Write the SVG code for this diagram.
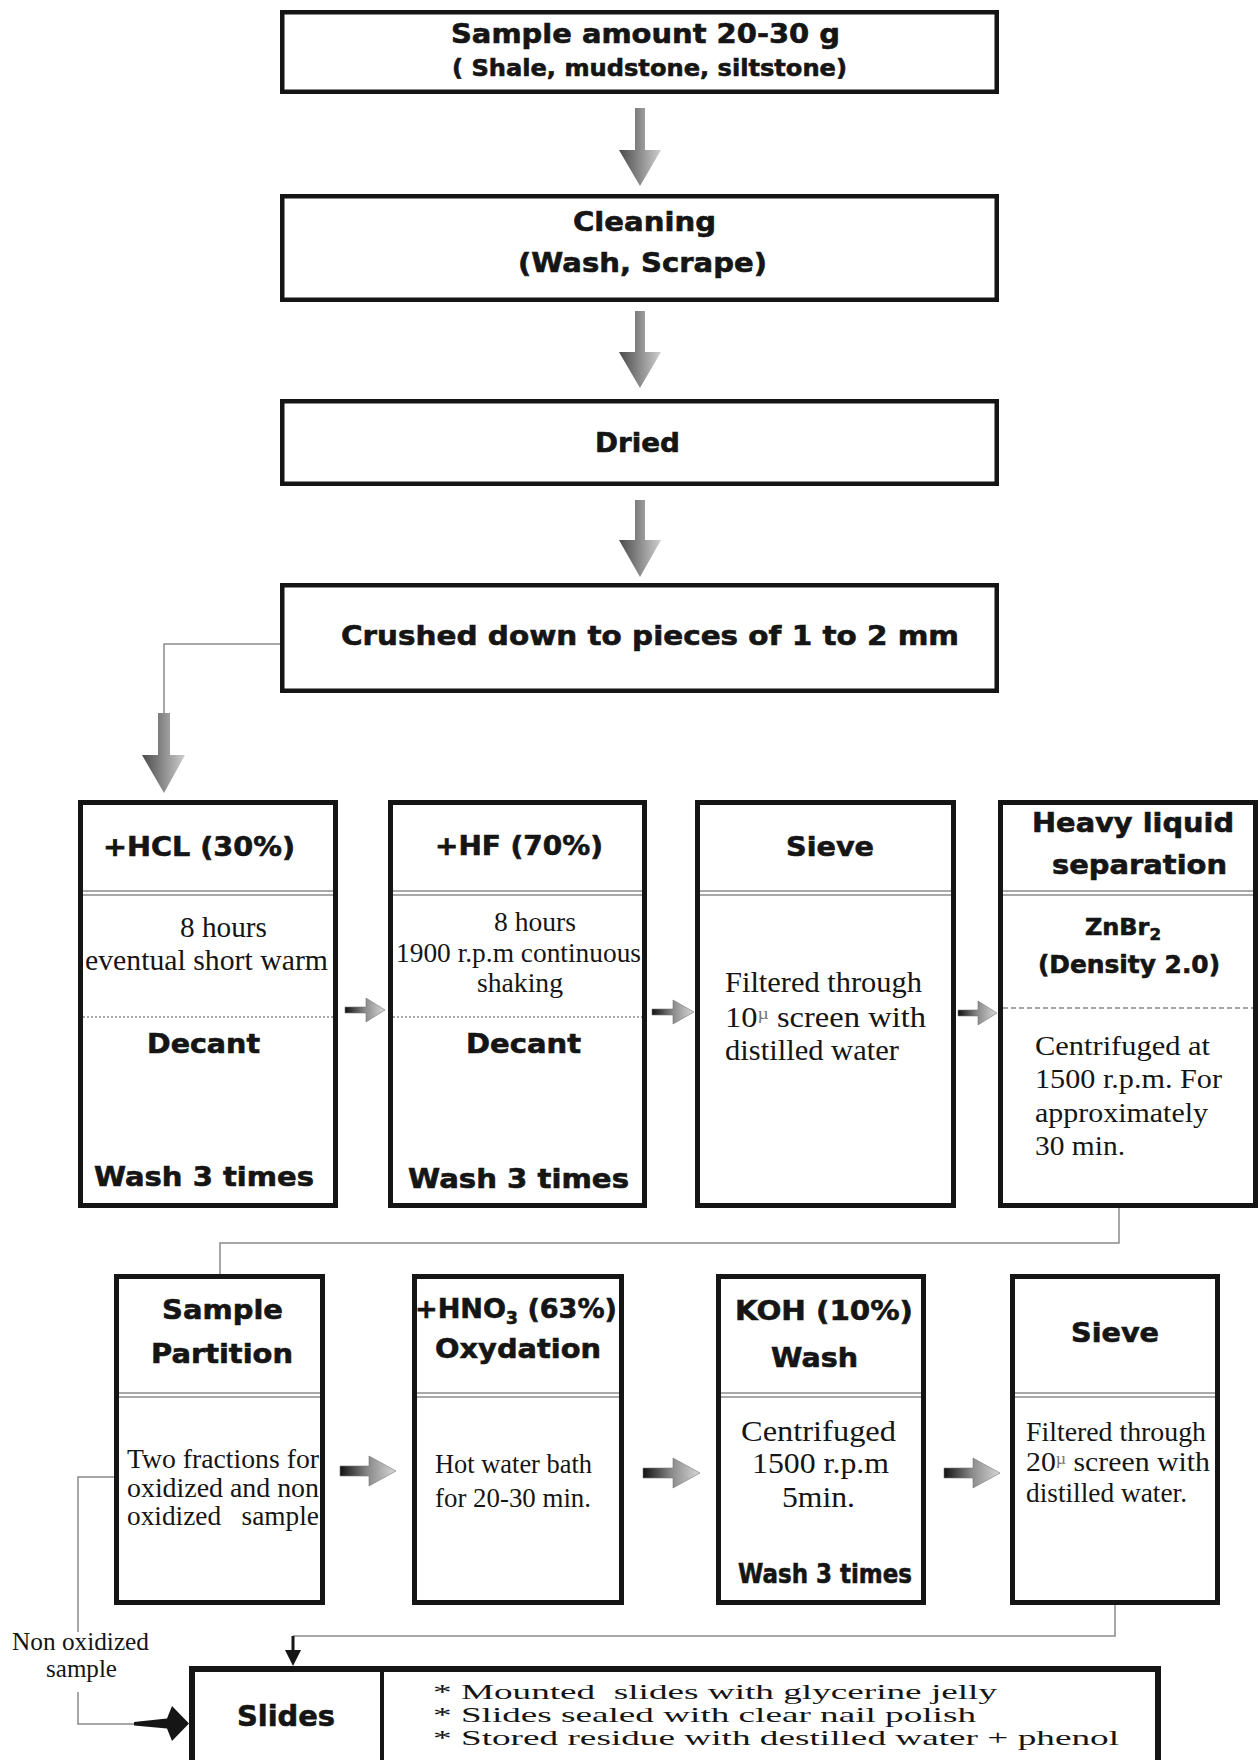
<svg xmlns="http://www.w3.org/2000/svg" width="1260" height="1760" viewBox="0 0 1260 1760">
<defs>
<style>
.bx{fill:#fff;stroke:#151515;stroke-width:4.5}
.bt{fill:#fff;stroke:#151515;stroke-width:5}
.b{font-family:"DejaVu Sans","Liberation Sans",sans-serif;font-weight:bold;fill:#151515;stroke:#151515;stroke-width:0.6}
.s{font-family:"Liberation Serif","Times New Roman",serif;fill:#151515}
.sep{stroke:#8c8c8c;stroke-width:1.4;fill:none}
.con{stroke:#8a8a8a;stroke-width:1.5;fill:none}
.dot{stroke:#8c8c8c;stroke-width:1.4;stroke-dasharray:2 2}
.dash{stroke:#8c8c8c;stroke-width:1.4;stroke-dasharray:5 3}
.mu{font-size:60%;fill:#777}
</style>
<linearGradient id="gv" x1="0" y1="0" x2="1" y2="0">
<stop offset="0" stop-color="#4a4a4a"/><stop offset="0.5" stop-color="#8c8c8c"/><stop offset="1" stop-color="#cfcfcf"/>
</linearGradient>
<linearGradient id="gh" x1="0" y1="0" x2="1" y2="0">
<stop offset="0" stop-color="#111"/><stop offset="0.5" stop-color="#8a8a8a"/><stop offset="1" stop-color="#d8d8d8"/>
</linearGradient>
</defs>
<rect x="0" y="0" width="1260" height="1760" fill="#fff"/>

<g id="connectors">
<path d="M635,108 H645 V150 H661 L640,186 L619,150 H635 Z" fill="url(#gv)"/>
<path d="M635,311 H645 V352 H661 L640,388 L619,352 H635 Z" fill="url(#gv)"/>
<path d="M635,500 H645 V540 H661 L640,577 L619,540 H635 Z" fill="url(#gv)"/>
<polyline class="con" points="280,644 164,644 164,713"/>
<path d="M158,713 H170 V755 H185 L164,793 L142,755 H158 Z" fill="url(#gv)"/>
<path d="M345,1007 H366 V998 L385,1010 L366,1022 V1013 H345 Z" fill="url(#gh)" stroke="#777" stroke-width="0.6"/>
<path d="M652,1009 H673 V1000 L694,1012 L673,1024 V1015 H652 Z" fill="url(#gh)" stroke="#777" stroke-width="0.6"/>
<path d="M958,1010 H978 V1001 L997,1013 L978,1025 V1016 H958 Z" fill="url(#gh)" stroke="#777" stroke-width="0.6"/>
<polyline class="con" points="1119,1208 1119,1243 220,1243 220,1274"/>
<path d="M340,1466 H369 V1456 L396,1471 L369,1486 V1476 H340 Z" fill="url(#gh)" stroke="#777" stroke-width="0.6"/>
<path d="M643,1468 H673 V1458 L700,1473 L673,1488 V1478 H643 Z" fill="url(#gh)" stroke="#777" stroke-width="0.6"/>
<path d="M944,1468 H973 V1458 L1000,1473 L973,1488 V1478 H944 Z" fill="url(#gh)" stroke="#777" stroke-width="0.6"/>
<polyline class="con" points="1115,1605 1115,1636 293,1636"/>
<line x1="293" y1="1636" x2="293" y2="1652" stroke="#151515" stroke-width="3"/>
<path d="M285,1650 H301 L293,1666 Z" fill="#151515"/>
<polyline class="con" points="114,1477 78,1477 78,1632"/>
<polyline class="con" points="78,1692 78,1724 134,1724"/>
<path d="M134,1722 L167,1718.5 L172,1706 L189,1723.5 L172,1741 L167,1728.5 L134,1725.5 Z" fill="#151515"/>
<text class="s" x="12" y="1650" font-size="25" textLength="137" lengthAdjust="spacingAndGlyphs">Non oxidized</text>
<text class="s" x="46" y="1677" font-size="25" textLength="71" lengthAdjust="spacingAndGlyphs">sample</text>
</g>

<g id="n-sample">
<rect class="bx" x="282.25" y="12.25" width="714.5" height="79.5"/>
<text class="b" x="451" y="43" font-size="27" textLength="389" lengthAdjust="spacingAndGlyphs">Sample amount 20-30 g</text>
<text class="b" x="452" y="76" font-size="23" textLength="395" lengthAdjust="spacingAndGlyphs">( Shale, mudstone, siltstone)</text>
</g>

<g id="n-cleaning">
<rect class="bx" x="282.25" y="196.25" width="714.5" height="103.5"/>
<text class="b" x="573" y="231" font-size="27" textLength="143" lengthAdjust="spacingAndGlyphs">Cleaning</text>
<text class="b" x="518" y="272" font-size="27" textLength="249" lengthAdjust="spacingAndGlyphs">(Wash, Scrape)</text>
</g>

<g id="n-dried">
<rect class="bx" x="282.25" y="401.25" width="714.5" height="82.5"/>
<text class="b" x="595" y="452" font-size="27" textLength="85" lengthAdjust="spacingAndGlyphs">Dried</text>
</g>

<g id="n-crushed">
<rect class="bx" x="282.25" y="585.25" width="714.5" height="105.5"/>
<text class="b" x="341" y="645" font-size="27" textLength="618" lengthAdjust="spacingAndGlyphs">Crushed down to pieces of 1 to 2 mm</text>
</g>

<g id="n-hcl">
<rect class="bt" x="80.5" y="802.5" width="255" height="403"/>
<line class="sep" x1="83" y1="891" x2="333" y2="891"/>
<line class="sep" x1="83" y1="895" x2="333" y2="895"/>
<line class="dot" x1="83" y1="1017" x2="333" y2="1017"/>
<text class="b" x="103" y="856" font-size="26" textLength="192" lengthAdjust="spacingAndGlyphs">+HCL (30%)</text>
<text class="s" x="180" y="937" font-size="29" textLength="87" lengthAdjust="spacingAndGlyphs">8 hours</text>
<text class="s" x="85" y="970" font-size="29" textLength="243" lengthAdjust="spacingAndGlyphs">eventual short warm</text>
<text class="b" x="147" y="1053" font-size="27" textLength="113" lengthAdjust="spacingAndGlyphs">Decant</text>
<text class="b" x="94" y="1186" font-size="27" textLength="220" lengthAdjust="spacingAndGlyphs">Wash 3 times</text>
</g>

<g id="n-hf">
<rect class="bt" x="390.5" y="802.5" width="254" height="403"/>
<line class="sep" x1="393" y1="891" x2="642" y2="891"/>
<line class="sep" x1="393" y1="895" x2="642" y2="895"/>
<line class="dot" x1="393" y1="1017" x2="642" y2="1017"/>
<text class="b" x="435" y="855" font-size="26" textLength="168" lengthAdjust="spacingAndGlyphs">+HF (70%)</text>
<text class="s" x="494" y="931" font-size="27" textLength="82" lengthAdjust="spacingAndGlyphs">8 hours</text>
<text class="s" x="396" y="962" font-size="27" textLength="245" lengthAdjust="spacingAndGlyphs">1900 r.p.m continuous</text>
<text class="s" x="477" y="992" font-size="27" textLength="86" lengthAdjust="spacingAndGlyphs">shaking</text>
<text class="b" x="466" y="1053" font-size="27" textLength="115" lengthAdjust="spacingAndGlyphs">Decant</text>
<text class="b" x="408" y="1188" font-size="27" textLength="221" lengthAdjust="spacingAndGlyphs">Wash 3 times</text>
</g>

<g id="n-sieve1">
<rect class="bt" x="697.5" y="802.5" width="256" height="403"/>
<line class="sep" x1="700" y1="891" x2="951" y2="891"/>
<line class="sep" x1="700" y1="895" x2="951" y2="895"/>
<text class="b" x="786" y="856" font-size="27" textLength="88" lengthAdjust="spacingAndGlyphs">Sieve</text>
<text class="s" x="725" y="992" font-size="29" textLength="197" lengthAdjust="spacingAndGlyphs">Filtered through</text>
<text class="s" x="725" y="1027" font-size="29" textLength="201" lengthAdjust="spacingAndGlyphs">10<tspan class="mu" dy="-8">µ</tspan><tspan dy="8"> screen with</tspan></text>
<text class="s" x="725" y="1060" font-size="29" textLength="174" lengthAdjust="spacingAndGlyphs">distilled water</text>
</g>

<g id="n-heavy">
<rect class="bt" x="1000.5" y="802.5" width="255" height="403"/>
<line class="sep" x1="1003" y1="891" x2="1253" y2="891"/>
<line class="sep" x1="1003" y1="895" x2="1253" y2="895"/>
<line class="dash" x1="1003" y1="1008" x2="1253" y2="1008"/>
<text class="b" x="1032" y="832" font-size="27" textLength="202" lengthAdjust="spacingAndGlyphs">Heavy liquid</text>
<text class="b" x="1052" y="874" font-size="27" textLength="175" lengthAdjust="spacingAndGlyphs">separation</text>
<text class="b" x="1085" y="935" font-size="23" textLength="76" lengthAdjust="spacingAndGlyphs">ZnBr<tspan font-size="16" dy="5">2</tspan></text>
<text class="b" x="1038" y="973" font-size="24" textLength="182" lengthAdjust="spacingAndGlyphs">(Density 2.0)</text>
<text class="s" x="1035" y="1055" font-size="28" textLength="175" lengthAdjust="spacingAndGlyphs">Centrifuged at</text>
<text class="s" x="1035" y="1088" font-size="28" textLength="187" lengthAdjust="spacingAndGlyphs">1500 r.p.m. For</text>
<text class="s" x="1035" y="1122" font-size="28" textLength="173" lengthAdjust="spacingAndGlyphs">approximately</text>
<text class="s" x="1035" y="1155" font-size="28" textLength="90" lengthAdjust="spacingAndGlyphs">30 min.</text>
</g>

<g id="n-partition">
<rect class="bt" x="116.5" y="1276.5" width="206" height="326"/>
<line class="sep" x1="119" y1="1393" x2="320" y2="1393"/>
<line class="sep" x1="119" y1="1397" x2="320" y2="1397"/>
<text class="b" x="162" y="1319" font-size="27" textLength="121" lengthAdjust="spacingAndGlyphs">Sample</text>
<text class="b" x="151" y="1363" font-size="27" textLength="142" lengthAdjust="spacingAndGlyphs">Partition</text>
<text class="s" x="127" y="1468" font-size="28" textLength="192" lengthAdjust="spacingAndGlyphs">Two fractions for</text>
<text class="s" x="127" y="1497" font-size="28" textLength="192" lengthAdjust="spacingAndGlyphs">oxidized and non</text>
<text class="s" x="127" y="1525" font-size="28" textLength="192" lengthAdjust="spacingAndGlyphs" xml:space="preserve">oxidized   sample</text>
</g>

<g id="n-hno3">
<rect class="bt" x="414.5" y="1276.5" width="207" height="326"/>
<line class="sep" x1="417" y1="1393" x2="619" y2="1393"/>
<line class="sep" x1="417" y1="1397" x2="619" y2="1397"/>
<text class="b" x="415" y="1318" font-size="27" textLength="202" lengthAdjust="spacingAndGlyphs">+HNO<tspan font-size="17" dy="6">3</tspan><tspan dy="-6"> (63%)</tspan></text>
<text class="b" x="435" y="1358" font-size="27" textLength="166" lengthAdjust="spacingAndGlyphs">Oxydation</text>
<text class="s" x="435" y="1473" font-size="28" textLength="157" lengthAdjust="spacingAndGlyphs">Hot water bath</text>
<text class="s" x="435" y="1507" font-size="28" textLength="156" lengthAdjust="spacingAndGlyphs">for 20-30 min.</text>
</g>

<g id="n-koh">
<rect class="bt" x="718.5" y="1276.5" width="205" height="326"/>
<line class="sep" x1="721" y1="1393" x2="921" y2="1393"/>
<line class="sep" x1="721" y1="1397" x2="921" y2="1397"/>
<text class="b" x="735" y="1320" font-size="27" textLength="178" lengthAdjust="spacingAndGlyphs">KOH (10%)</text>
<text class="b" x="771" y="1367" font-size="27" textLength="87" lengthAdjust="spacingAndGlyphs">Wash</text>
<text class="s" x="741" y="1441" font-size="29" textLength="155" lengthAdjust="spacingAndGlyphs">Centrifuged</text>
<text class="s" x="752" y="1473" font-size="29" textLength="137" lengthAdjust="spacingAndGlyphs">1500 r.p.m</text>
<text class="s" x="782" y="1507" font-size="29" textLength="73" lengthAdjust="spacingAndGlyphs">5min.</text>
<text class="b" x="738" y="1583" font-size="27" textLength="174" lengthAdjust="spacingAndGlyphs">Wash 3 times</text>
</g>

<g id="n-sieve2">
<rect class="bt" x="1012.5" y="1276.5" width="205" height="326"/>
<line class="sep" x1="1015" y1="1393" x2="1215" y2="1393"/>
<line class="sep" x1="1015" y1="1397" x2="1215" y2="1397"/>
<text class="b" x="1071" y="1342" font-size="27" textLength="88" lengthAdjust="spacingAndGlyphs">Sieve</text>
<text class="s" x="1026" y="1441" font-size="27" textLength="180" lengthAdjust="spacingAndGlyphs">Filtered through</text>
<text class="s" x="1026" y="1471" font-size="27" textLength="184" lengthAdjust="spacingAndGlyphs">20<tspan class="mu" dy="-7">µ</tspan><tspan dy="7"> screen with</tspan></text>
<text class="s" x="1026" y="1502" font-size="27" textLength="161" lengthAdjust="spacingAndGlyphs">distilled water.</text>
</g>

<g id="n-slides">
<rect x="192" y="1669" width="966" height="130" fill="#fff" stroke="#151515" stroke-width="6"/>
<line x1="382" y1="1669" x2="382" y2="1760" stroke="#151515" stroke-width="4"/>
<text class="b" x="237" y="1726" font-size="28" textLength="98" lengthAdjust="spacingAndGlyphs">Slides</text>
<text class="s" x="433" y="1699" font-size="21" textLength="564" lengthAdjust="spacingAndGlyphs" xml:space="preserve">* Mounted  slides with glycerine jelly</text>
<text class="s" x="433" y="1722" font-size="21" textLength="543" lengthAdjust="spacingAndGlyphs">* Slides sealed with clear nail polish</text>
<text class="s" x="433" y="1745" font-size="21" textLength="686" lengthAdjust="spacingAndGlyphs">* Stored residue with destilled water + phenol</text>
</g>
</svg>
